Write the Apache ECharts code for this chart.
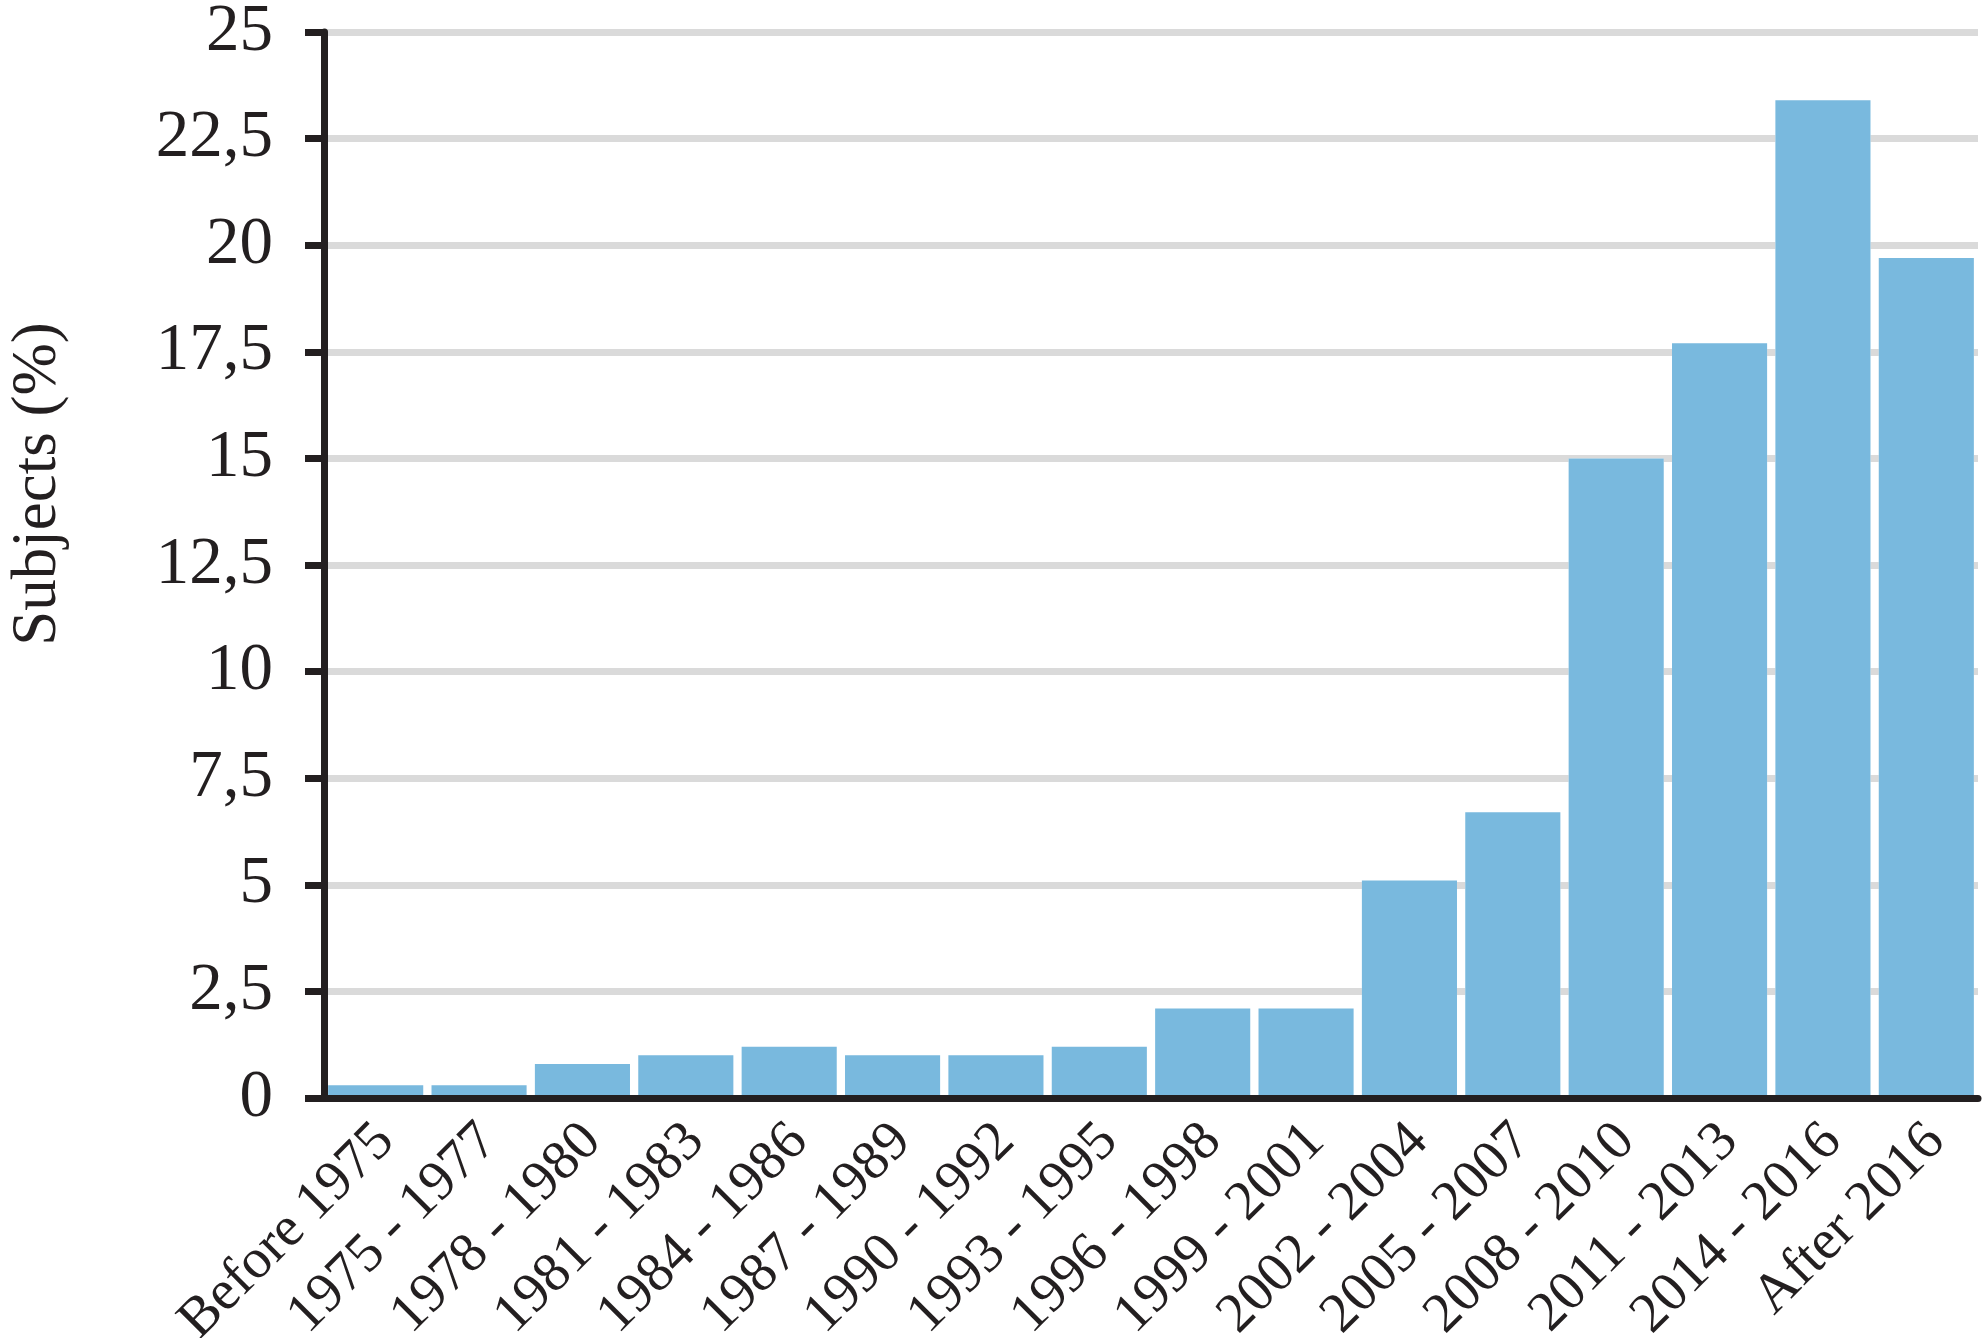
<!DOCTYPE html>
<html>
<head>
<meta charset="utf-8">
<script src="https://cdn.jsdelivr.net/npm/echarts@6/dist/echarts.min.js"></script>
<style>
  html, body { margin: 0; padding: 0; background: #fff; }
  #subjects { width: 1983px; height: 1338px; }
</style>
</head>
<body>
<div id="subjects"></div>
<script>
// periods on the x axis
var periods = ['Before 1975', '1975 - 1977', '1978 - 1980', '1981 - 1983', '1984 - 1986',
    '1987 - 1989', '1990 - 1992', '1993 - 1995', '1996 - 1998', '1999 - 2001',
    '2002 - 2004', '2005 - 2007', '2008 - 2010', '2011 - 2013', '2014 - 2016', 'After 2016'];
// share of subjects, %
var subjects = [0.3, 0.3, 0.8, 1.0, 1.2, 1.0, 1.0, 1.2, 2.1, 2.1, 5.1, 6.7, 15.0, 17.7, 23.4, 19.7];

var ink = '#231f20';
var serif = '"Liberation Serif", "Times New Roman", serif';

var option = {
    animation: false,
    backgroundColor: '#fff',
    grid: {
        left: 324,
        right: 5,
        top: 32,
        bottom: 240,
        outerBoundsMode: 'none'
    },
    xAxis: {
        type: 'category',
        data: periods,
        z: 5,
        axisLine: { lineStyle: { color: ink, width: 7 } },
        axisTick: { length: 15, lineStyle: { color: ink, width: 7 } },
        axisLabel: {
            rotate: 45,
            margin: 25,
            verticalAlign: 'top',
            lineHeight: 28,
            interval: 0,
            color: ink,
            fontFamily: serif,
            fontSize: 56
        }
    },
    yAxis: [{
        // main axis: line, ticks, labels, drawn above the bars
        type: 'value',
        min: 0,
        max: 25,
        interval: 2.5,
        name: 'Subjects (%)',
        nameLocation: 'middle',
        nameGap: 254,
        nameTextStyle: {
            color: ink,
            fontFamily: serif,
            fontSize: 63,
            padding: [0, 0, 0, 162]
        },
        z: 5,
        axisLine: { show: true, lineStyle: { color: ink, width: 7 } },
        axisTick: { show: true, length: 19, lineStyle: { color: ink, width: 7 } },
        axisLabel: {
            margin: 51,
            color: ink,
            fontFamily: serif,
            fontSize: 67,
            formatter: function (v) { return String(v).replace('.', ','); }
        },
        splitLine: { show: false }
    }, {
        // grid lines only, kept behind the bars
        type: 'value',
        position: 'left',
        min: 0,
        max: 25,
        interval: 2.5,
        z: 0,
        axisLine: { show: false },
        axisTick: { show: false },
        axisLabel: { show: false },
        splitLine: { lineStyle: { color: '#dadada', width: 7 } }
    }],
    series: [{
        // white halo that breaks the grid lines around each bar
        type: 'bar',
        data: subjects,
        barCategoryGap: '8%',
        z: 2,
        silent: true,
        itemStyle: {
            color: '#fff',
            borderColor: '#fff',
            borderWidth: 16
        }
    }, {
        type: 'bar',
        data: subjects,
        barGap: '-100%',
        barCategoryGap: '8%',
        z: 3,
        itemStyle: {
            color: '#79b9de'
        }
    }]
};

var myChart = echarts.init(document.getElementById('subjects'));
myChart.setOption(option);
</script>
</body>
</html>
